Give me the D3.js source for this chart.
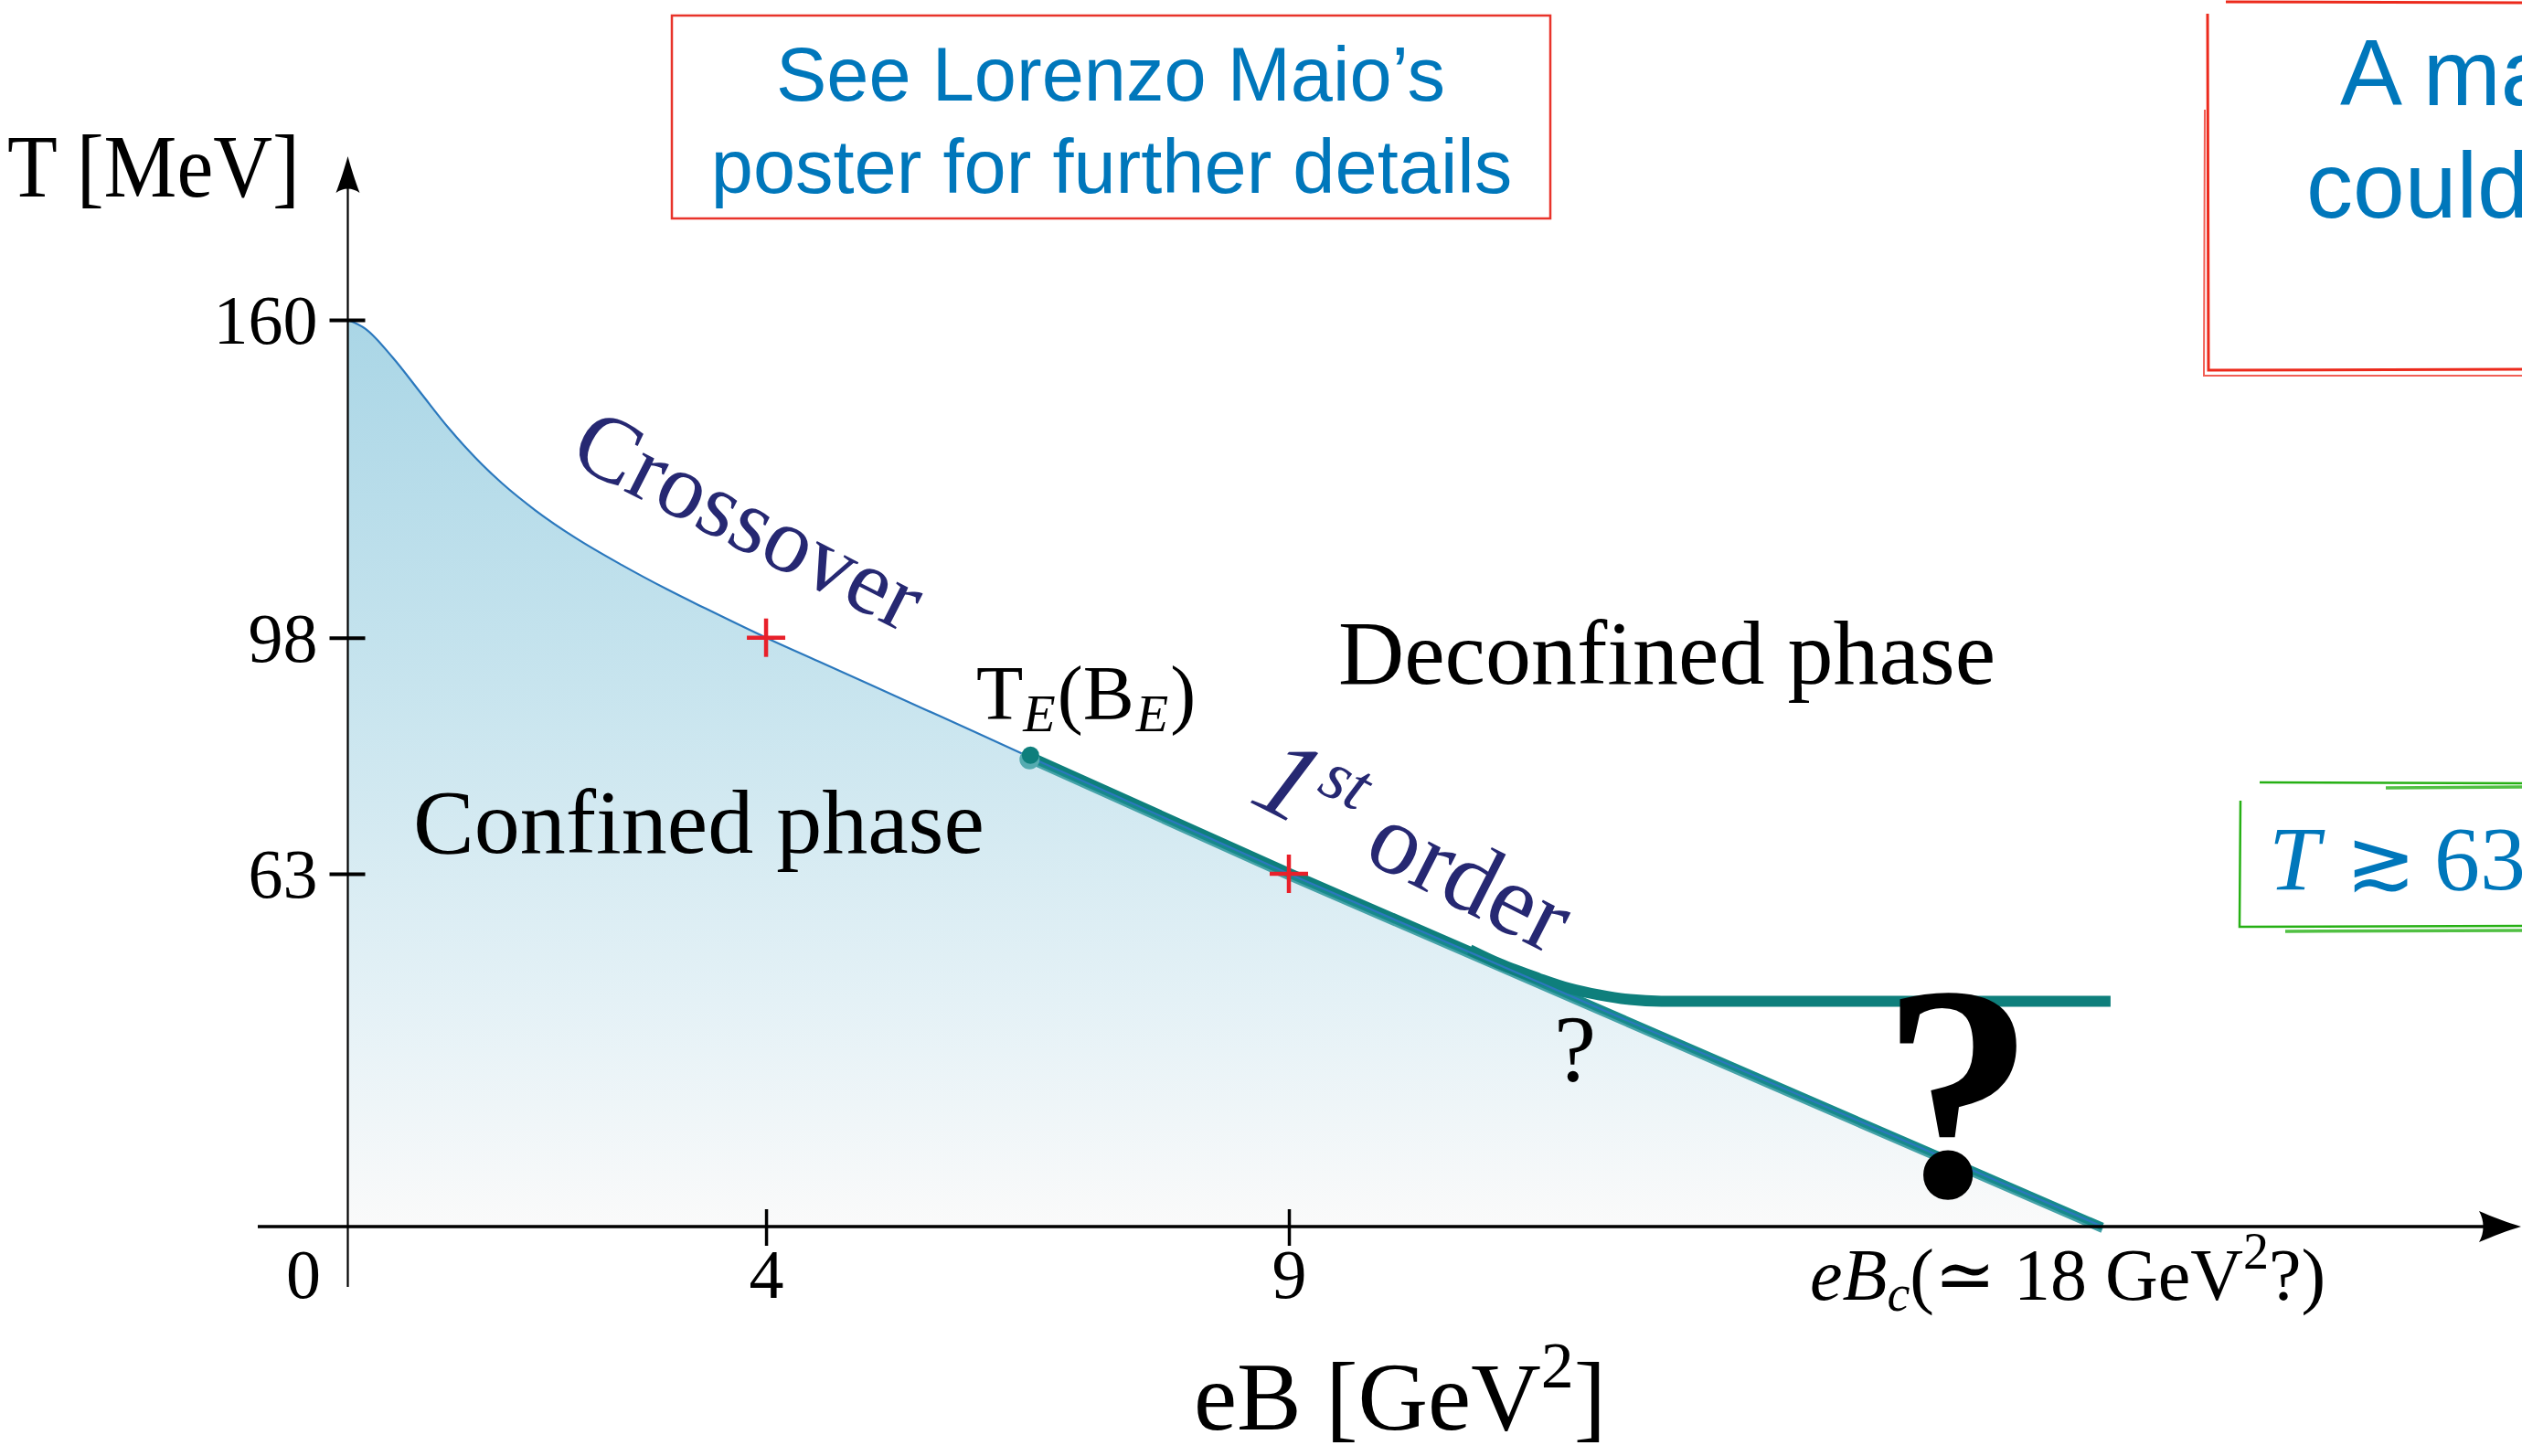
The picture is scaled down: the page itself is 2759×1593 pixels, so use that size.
<!DOCTYPE html>
<html>
<head>
<meta charset="utf-8">
<script src="https://cdn.jsdelivr.net/npm/d3@7"></script>
<style>
  html, body { margin: 0; padding: 0; background: #ffffff; }
  svg { display: block; }
</style>
</head>
<body>
<svg id="chart" width="2759" height="1593"></svg>
<script>
// Schematic QCD phase diagram in a strong magnetic field (T vs eB)

// ---- data ----
const xTickValues = [4, 9];
const xTickLabels = ["4", "9"];
const originLabel = "0";
const yTickValues = [63, 98, 160];
const yTickLabels = ["63", "98", "160"];

// crossover line: eB [GeV^2] -> T [MeV], up to the critical endpoint
const crossoverEB = [0, 0.17, 0.43, 0.70, 0.96, 1.22, 1.48, 1.79, 2.18, 2.62, 3.05, 3.49, 4, 4.5, 5, 5.5, 6, 6.52];
const crossoverT  = [160, 158.25, 152.64, 145.68, 139.0, 133.11, 128.03, 122.91, 117.45, 112.19, 107.47, 103.01, 98, 94.5, 91.0, 87.5, 84.0, 80.3];

// critical endpoint T_E(B_E)
const endpointEB = 6.52;
const endpointT = 80.3;

// first-order line from the endpoint down to eB_c
const eBc = 18;
const firstOrderEB = [6.52, 9, eBc];
const firstOrderT  = [80.3, 63, 0];

// alternative scenario: the transition temperature levels off
const branchEB = [11.33, 11.76, 12.1, 12.44, 12.77, 13.12, 18.09];
const branchT  = [46.7, 44.1, 42.3, 41.1, 40.3, 40.0, 40.0];

// lattice determinations
const latticeEB = [4, 9];
const latticeT  = [98, 63];

// ---- layout ----
const svg = d3.select("#chart");
const serif = "'Liberation Serif', 'DejaVu Serif', serif";
const sans = "'Liberation Sans', Arial, Helvetica, sans-serif";
const blueText = "#0077bb";
const navy = "#262872";

// schematic (piecewise-linear) axes
const x = d3.scaleLinear().domain([0, 9, eBc]).range([380.5, 1410, 2300]);
const y = d3.scaleLinear().domain([0, 63, 98, 160]).range([1342, 956, 697.7, 350]);

const pts = (xs, ys) => xs.map((v, i) => [v, ys[i]]);
const crossover = pts(crossoverEB, crossoverT);
const firstOrder = pts(firstOrderEB, firstOrderT);
const branch = pts(branchEB, branchT);

const smooth = d3.line().x(d => x(d[0])).y(d => y(d[1])).curve(d3.curveMonotoneX);
const straight = d3.line().x(d => x(d[0])).y(d => y(d[1]));

// gradient for the confined region
const defs = svg.append("defs");
const grad = defs.append("linearGradient")
  .attr("id", "confinedFill")
  .attr("gradientUnits", "userSpaceOnUse")
  .attr("x1", 0).attr("x2", 0)
  .attr("y1", y(160)).attr("y2", y(0));
grad.append("stop").attr("offset", "0%").attr("stop-color", "rgb(170,214,230)");
grad.append("stop").attr("offset", "40%").attr("stop-color", "rgb(199,228,238)");
grad.append("stop").attr("offset", "75%").attr("stop-color", "rgb(228,241,246)");
grad.append("stop").attr("offset", "100%").attr("stop-color", "rgb(250,250,250)");

// confined region
const boundaryPath = smooth(crossover) + straight(firstOrder.slice(1).concat([[eBc, 0]])).replace(/^M/, "L");
svg.append("path")
  .attr("d", boundaryPath + `L${x(0)},${y(0)}Z`)
  .attr("fill", "url(#confinedFill)");

// first-order line (layered teal band)
svg.append("path").attr("d", straight(firstOrder))
  .attr("fill", "none").attr("stroke", "#45a2a8").attr("stroke-width", 8)
  .attr("transform", "translate(0,3)");
svg.append("path").attr("d", straight(firstOrder))
  .attr("fill", "none").attr("stroke", "#178a8b").attr("stroke-width", 8.5);
const upperPts = [[endpointEB, endpointT], [9, 63], branch[0]];
svg.append("path").attr("d", straight(upperPts))
  .attr("fill", "none").attr("stroke", "#0e7f7c").attr("stroke-width", 7)
  .attr("transform", "translate(0,-3)");

// levelling-off branch
svg.append("path").attr("d", smooth([[11.0, 49.2]].concat(branch)))
  .attr("fill", "none").attr("stroke", "#0e7f7c").attr("stroke-width", 12)
  .attr("transform", "translate(0,-1.5)");

// crossover + boundary thin blue line
svg.append("path").attr("d", boundaryPath)
  .attr("fill", "none").attr("stroke", "#2b78bd").attr("stroke-width", 2.2);

// endpoint marker
svg.append("circle").attr("cx", x(endpointEB)).attr("cy", y(endpointT) + 2.5)
  .attr("r", 11).attr("fill", "#55abb0");
svg.append("circle").attr("cx", x(endpointEB) + 1).attr("cy", y(endpointT) - 2)
  .attr("r", 9.5).attr("fill", "#0e7f7c");

// lattice crosses
const crosses = svg.append("g").attr("stroke", "#e8202a").attr("stroke-width", 4.5);
latticeEB.forEach((b, i) => {
  const cx = x(b), cy = y(latticeT[i]);
  crosses.append("line").attr("x1", cx - 21).attr("x2", cx + 21).attr("y1", cy).attr("y2", cy);
  crosses.append("line").attr("x1", cx).attr("x2", cx).attr("y1", cy - 21).attr("y2", cy + 21);
});

// ---- axes ----
// x axis
const gx = svg.append("g").attr("transform", `translate(0,${y(0)})`)
  .call(d3.axisBottom(x).tickValues(xTickValues).tickFormat((d, i) => xTickLabels[i]).tickSize(0));
gx.select(".domain").remove();
gx.selectAll(".tick").append("line")
  .attr("y1", -19).attr("y2", 21).attr("stroke", "#000").attr("stroke-width", 3.5);
gx.selectAll(".tick text")
  .attr("y", 78).attr("dy", 0)
  .attr("font-family", serif).attr("font-size", 76).attr("fill", "#000");

svg.append("line")
  .attr("x1", 282).attr("x2", 2725).attr("y1", y(0)).attr("y2", y(0))
  .attr("stroke", "#000").attr("stroke-width", 3.5);
svg.append("path")
  .attr("transform", `translate(2758,${y(0)})`)
  .attr("d", "M0,0 C-14,-4 -32,-11 -46,-17 C-40,-7 -40,7 -46,17 C-32,11 -14,4 0,0 Z")
  .attr("fill", "#000");

// y axis
const gy = svg.append("g").attr("transform", `translate(${x(0)},0)`)
  .call(d3.axisLeft(y).tickValues(yTickValues).tickFormat((d, i) => yTickLabels[i]).tickSize(0));
gy.select(".domain").remove();
gy.selectAll(".tick").append("line")
  .attr("x1", -20).attr("x2", 19).attr("stroke", "#000").attr("stroke-width", 4);
gy.selectAll(".tick text")
  .attr("x", -33).attr("dy", "0.34em")
  .attr("font-family", serif).attr("font-size", 76).attr("fill", "#000");

svg.append("line")
  .attr("x1", x(0)).attr("x2", x(0)).attr("y1", 1408).attr("y2", 200)
  .attr("stroke", "#000").attr("stroke-width", 2.2);
svg.append("path")
  .attr("transform", `translate(${x(0)},171)`)
  .attr("d", "M0,0 C3,11 8,27 13,40 C5,34 -5,34 -13,40 C-8,27 -3,11 0,0 Z")
  .attr("fill", "#000");

// origin label
svg.append("text").attr("x", 332).attr("y", 1420).attr("text-anchor", "middle")
  .attr("font-family", serif).attr("font-size", 76).text(originLabel);

// axis titles
svg.append("text").attr("x", 8).attr("y", 215)
  .attr("font-family", serif).attr("font-size", 98)
  .attr("textLength", 320).attr("lengthAdjust", "spacingAndGlyphs")
  .text("T [MeV]");

const xTitle = svg.append("text").attr("x", 1306).attr("y", 1564)
  .attr("font-family", serif).attr("font-size", 106);
xTitle.append("tspan").text("eB [GeV");
xTitle.append("tspan").attr("font-size", 72).attr("dy", -46).text("2");
xTitle.append("tspan").attr("dy", 46).text("]");

// eB_c label
const bc = svg.append("text").attr("x", 1980).attr("y", 1422)
  .attr("font-family", serif).attr("font-size", 80);
bc.append("tspan").attr("font-style", "italic").text("eB");
bc.append("tspan").attr("font-style", "italic").attr("font-size", 56).attr("dy", 12).text("c");
bc.append("tspan").attr("dy", -12).text("(\u2243 18 GeV");
bc.append("tspan").attr("font-size", 56).attr("dy", -34).text("2");
bc.append("tspan").attr("dy", 34).text("?)");

// ---- annotations ----
svg.append("text")
  .attr("transform", "translate(620,505) rotate(27)")
  .attr("font-family", serif).attr("font-size", 102).attr("fill", navy)
  .text("Crossover");

const foLbl = svg.append("text")
  .attr("transform", "translate(1364,876) rotate(27)")
  .attr("font-family", serif).attr("font-size", 110).attr("fill", navy);
foLbl.append("tspan").attr("font-style", "italic").attr("font-size", 124).text("1");
foLbl.append("tspan").attr("font-style", "italic").attr("font-size", 76).attr("dy", -44).text("st");
foLbl.append("tspan").attr("dy", 44).text(" order");

const te = svg.append("text").attr("x", 1068).attr("y", 787)
  .attr("font-family", serif).attr("font-size", 84);
te.append("tspan").text("T");
te.append("tspan").attr("font-style", "italic").attr("font-size", 58).attr("dy", 13).text("E");
te.append("tspan").attr("dy", -13).attr("dx", 2).text("(B");
te.append("tspan").attr("font-style", "italic").attr("font-size", 58).attr("dy", 13).attr("dx", 2).text("E");
te.append("tspan").attr("dy", -13).attr("dx", 2).text(")");

svg.append("text").attr("x", 1464).attr("y", 748)
  .attr("font-family", serif).attr("font-size", 100).text("Deconfined phase");
svg.append("text").attr("x", 452).attr("y", 933)
  .attr("font-family", serif).attr("font-size", 100).text("Confined phase");

svg.append("text").attr("x", 1723).attr("y", 1183).attr("text-anchor", "middle")
  .attr("font-family", serif).attr("font-size", 104).text("?");
svg.append("text").attr("x", 2142).attr("y", 1308).attr("text-anchor", "middle")
  .attr("font-family", serif).attr("font-size", 335).attr("font-weight", "bold").text("?");

// ---- boxed notes ----
svg.append("rect").attr("x", 735).attr("y", 17).attr("width", 961).attr("height", 222)
  .attr("fill", "none").attr("stroke", "#e8332a").attr("stroke-width", 2.5);
svg.append("text").attr("x", 1215).attr("y", 110).attr("text-anchor", "middle")
  .attr("font-family", sans).attr("font-size", 83).attr("fill", blueText)
  .text("See Lorenzo Maio\u2019s");
svg.append("text").attr("x", 1216).attr("y", 211).attr("text-anchor", "middle")
  .attr("font-family", sans).attr("font-size", 83).attr("fill", blueText)
  .text("poster for further details");

// hand-drawn red box
const redBox = svg.append("g").attr("fill", "none").attr("stroke", "#ec2a1c");
redBox.append("path").attr("d", "M2760,3 L2435,2 M2415,15 L2416,405 L2760,404")
  .attr("stroke-width", 3);
redBox.append("path").attr("d", "M2412,120 L2411,411 L2760,411")
  .attr("stroke-width", 2).attr("opacity", 0.75);
svg.append("text").attr("x", 2560).attr("y", 115)
  .attr("font-family", sans).attr("font-size", 102).attr("fill", blueText).text("A magnetic");
svg.append("text").attr("x", 2523).attr("y", 238)
  .attr("font-family", sans).attr("font-size", 102).attr("fill", blueText).text("could");

// hand-drawn green box
const greenBox = svg.append("g").attr("fill", "none").attr("stroke", "#26b014");
greenBox.append("path").attr("d", "M2760,857 L2472,856 M2451,876 L2450,1014 L2760,1013")
  .attr("stroke-width", 2.5);
greenBox.append("path").attr("d", "M2760,861 L2610,862 M2500,1019 L2760,1018")
  .attr("stroke-width", 3.5).attr("opacity", 0.8);
const tBox = svg.append("text").attr("y", 973)
  .attr("font-family", serif).attr("font-size", 100).attr("fill", blueText);
tBox.append("tspan").attr("x", 2482).attr("font-style", "italic").text("T");
tBox.append("tspan").attr("x", 2566).attr("font-family", "'DejaVu Serif', 'DejaVu Sans', serif").attr("font-size", 92).text("\u2273");
tBox.append("tspan").attr("x", 2663).text("63 MeV");
</script>
</body>
</html>
